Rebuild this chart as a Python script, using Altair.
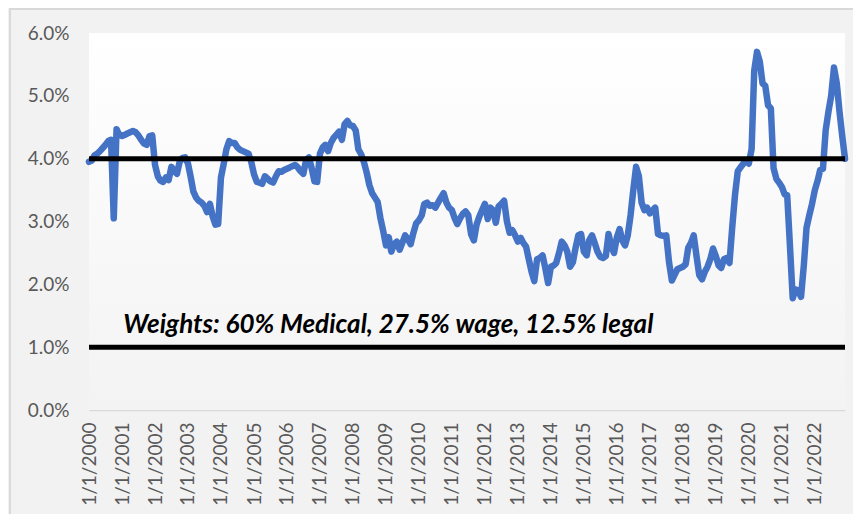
import altair as alt
import pandas as pd

# Monthly values (%), Jan..Dec per year
y2000 = [3.95, 3.97, 4.05, 4.08, 4.12, 4.17, 4.22, 4.28, 4.30, 3.05, 4.47, 4.38]
y2001 = [4.36, 4.38, 4.40, 4.42, 4.44, 4.42, 4.37, 4.30, 4.24, 4.22, 4.36, 4.37]
y2002 = [3.90, 3.72, 3.65, 3.63, 3.70, 3.66, 3.87, 3.80, 3.76, 3.95, 4.01, 4.02]
y2003 = [3.92, 3.70, 3.48, 3.38, 3.33, 3.30, 3.25, 3.15, 3.28, 3.08, 2.95, 2.96]
y2004 = [3.70, 3.92, 4.15, 4.28, 4.25, 4.25, 4.18, 4.14, 4.12, 4.10, 4.08, 3.95]
y2005 = [3.75, 3.63, 3.62, 3.60, 3.72, 3.68, 3.64, 3.62, 3.72, 3.80, 3.79, 3.82]
y2006 = [3.84, 3.86, 3.88, 3.90, 3.86, 3.80, 3.76, 3.98, 4.02, 3.85, 3.64, 3.63]
y2007 = [4.08, 4.18, 4.22, 4.12, 4.25, 4.33, 4.38, 4.43, 4.30, 4.55, 4.60, 4.53]
y2008 = [4.52, 4.45, 4.15, 4.07, 3.95, 3.78, 3.58, 3.45, 3.38, 3.31, 3.05, 2.85]
y2009 = [2.62, 2.75, 2.52, 2.64, 2.68, 2.55, 2.66, 2.78, 2.72, 2.64, 2.82, 2.97]
y2010 = [3.02, 3.10, 3.28, 3.30, 3.25, 3.26, 3.22, 3.30, 3.38, 3.45, 3.30, 3.22]
y2011 = [3.18, 3.05, 2.96, 3.05, 3.12, 3.16, 3.10, 2.80, 2.70, 2.95, 3.08, 3.18]
y2012 = [3.28, 3.04, 3.22, 3.18, 2.98, 3.24, 3.28, 3.33, 3.00, 2.82, 2.86, 2.78]
y2013 = [2.68, 2.74, 2.66, 2.60, 2.40, 2.20, 2.05, 2.40, 2.42, 2.46, 2.25, 2.02]
y2014 = [2.28, 2.30, 2.34, 2.50, 2.68, 2.62, 2.52, 2.28, 2.35, 2.58, 2.78, 2.80]
y2015 = [2.52, 2.46, 2.70, 2.78, 2.66, 2.52, 2.44, 2.42, 2.45, 2.80, 2.60, 2.50]
y2016 = [2.75, 2.88, 2.70, 2.62, 2.78, 3.10, 3.50, 3.87, 3.72, 3.30, 3.18, 3.22]
y2017 = [3.13, 3.18, 3.22, 2.80, 2.78, 2.77, 2.78, 2.35, 2.06, 2.15, 2.24, 2.26]
y2018 = [2.28, 2.32, 2.58, 2.66, 2.78, 2.45, 2.15, 2.08, 2.20, 2.28, 2.40, 2.57]
y2019 = [2.45, 2.30, 2.26, 2.40, 2.42, 2.34, 2.90, 3.42, 3.80, 3.86, 3.92, 3.96]
y2020 = [3.92, 4.15, 5.40, 5.70, 5.55, 5.20, 5.16, 4.85, 4.80, 3.85, 3.68, 3.62]
y2021 = [3.55, 3.43, 3.42, 2.60, 1.78, 1.92, 1.90, 1.80, 2.30, 2.90, 3.10, 3.28]
y2022 = [3.50, 3.65, 3.82, 3.84, 4.45, 4.75, 5.00, 5.45, 5.20, 4.75, 4.35, 4.00]

years = list(range(2000, 2023))
series = [y2000, y2001, y2002, y2003, y2004, y2005, y2006, y2007, y2008, y2009,
          y2010, y2011, y2012, y2013, y2014, y2015, y2016, y2017, y2018, y2019,
          y2020, y2021, y2022]

reference_levels = [4.0, 1.0]
y_ticks = [0, 1, 2, 3, 4, 5, 6]
annotation = "Weights: 60% Medical, 27.5% wage, 12.5% legal"
annotation_date = "2001-01-15"
annotation_level = 1.22

dates, rates = [], []
for yr, vals in zip(years, series):
    for m, v in enumerate(vals):
        dates.append(f"{yr}-{m + 1:02d}-01")
        rates.append(v)
df = pd.DataFrame({"date": dates, "rate": rates})

W, H = 756, 377
FONT = "Lato"
LABEL_COLOR = "#595959"

x_scale = alt.Scale(type="utc",
                    domain=[alt.DateTime(year=2000, month=1, date=1, utc=True),
                            alt.DateTime(year=2022, month=12, date=1, utc=True)])
y_scale = alt.Scale(domain=[0, 6], nice=False, zero=True)

x_axis = alt.Axis(
    values=[alt.DateTime(year=y, month=1, date=1, utc=True) for y in years],
    labelExpr="utcFormat(datum.value, '%-m/%-d/%Y')", labelAngle=270,
    ticks=False, grid=False, domainColor="#d9d9d9", domainWidth=1.5,
    labelColor=LABEL_COLOR, labelFont=FONT, labelFontSize=19, labelPadding=12,
    title=None, labelOverlap=False, labelFlush=False,
)
y_axis = alt.Axis(
    values=y_ticks, labelExpr="format(datum.value, '.1f') + '%'",
    domain=False, ticks=False, grid=False,
    labelColor=LABEL_COLOR, labelFont=FONT, labelFontSize=19, labelPadding=20,
    title=None,
)

one = pd.DataFrame({"k": [0]})
plot_bg = alt.Chart(one).mark_rect(
    color=alt.LinearGradient(
        gradient="linear",
        stops=[alt.GradientStop(color="#ffffff", offset=0),
               alt.GradientStop(color="#f3f3f3", offset=1)],
        x1=0, x2=0, y1=0, y2=1),
).encode(x=alt.value(0), x2=alt.value(W), y=alt.value(0), y2=alt.value(H))

frame = alt.Chart(one).mark_rect(
    fillOpacity=0, stroke="#d9d9d9", strokeWidth=2,
).encode(x=alt.value(-79), x2=alt.value(W + 40), y=alt.value(-24), y2=alt.value(H + 130))

line = alt.Chart(df).mark_line(
    color="#4472C4", strokeWidth=6.5, strokeJoin="round", strokeCap="round",
).encode(
    x=alt.X("date:T", scale=x_scale, axis=x_axis),
    y=alt.Y("rate:Q", scale=y_scale, axis=y_axis),
)

rules = alt.Chart(pd.DataFrame({"level": reference_levels})).mark_rule(
    color="black", strokeWidth=5,
).encode(y=alt.Y("level:Q", scale=y_scale, axis=y_axis))

text = alt.Chart(pd.DataFrame({"date": [annotation_date], "level": [annotation_level],
                               "label": [annotation]})).mark_text(
    align="left", baseline="alphabetic", font=FONT, fontSize=26,
    fontStyle="italic", fontWeight="bold", color="black",
).encode(x=alt.X("date:T", scale=x_scale, axis=x_axis),
         y=alt.Y("level:Q", scale=y_scale, axis=y_axis), text="label:N")

chart = alt.layer(frame, plot_bg, line, rules, text).properties(
    width=W, height=H,
    autosize=alt.AutoSizeParams(type="none"),
    padding={"left": 81, "top": 25, "right": 8, "bottom": 104},
    background="#f2f2f2",
).configure_view(stroke=None)

chart.save("out.html", embed_options={"renderer": "svg", "actions": False})
